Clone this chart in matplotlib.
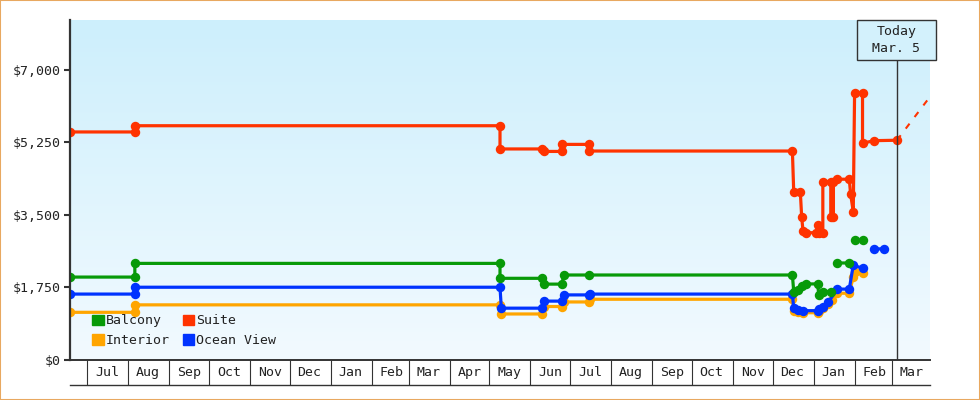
import matplotlib
matplotlib.use("Agg")
import matplotlib.pyplot as plt
import matplotlib.dates as mdates
import numpy as np
from matplotlib.patches import Rectangle, Patch
from matplotlib.colors import LinearSegmentedColormap
from matplotlib.ticker import FuncFormatter, FixedLocator

plt.rcParams['font.family'] = ['DejaVu Sans Mono', 'DejaVu Sans']
plt.rcParams['font.size'] = 9.5

# ---------------- data ----------------
suite_dates = ["2013-06-18", "2013-08-06", "2013-08-06", "2014-05-09", "2014-05-09",
               "2014-06-10", "2014-06-11", "2014-06-25", "2014-06-25", "2014-07-15",
               "2014-07-15", "2014-12-16", "2014-12-17", "2014-12-22", "2014-12-23",
               "2014-12-24", "2014-12-26", "2015-01-03", "2015-01-04", "2015-01-05",
               "2015-01-08", "2015-01-08", "2015-01-14", "2015-01-14", "2015-01-16",
               "2015-01-16", "2015-01-19", "2015-01-28", "2015-01-29", "2015-01-31",
               "2015-02-01", "2015-02-07", "2015-02-07", "2015-02-16", "2015-03-05"]
suite_prices = [5500, 5500, 5650, 5650, 5090,
                5090, 5030, 5030, 5200, 5200,
                5040, 5040, 4050, 4050, 3450,
                3120, 3070, 3070, 3250, 3070,
                3070, 4300, 4300, 3460, 3460,
                4300, 4360, 4360, 4000, 3580,
                6440, 6440, 5230, 5290, 5300]

balcony_dates = ["2013-06-18", "2013-08-06", "2013-08-06", "2014-05-09", "2014-05-09",
                 "2014-06-10", "2014-06-11", "2014-06-25", "2014-06-26", "2014-07-15",
                 "2014-12-16", "2014-12-17", "2014-12-20", "2014-12-23", "2014-12-26",
                 "2015-01-04", "2015-01-05", "2015-01-08", "2015-01-14", None,
                 "2015-01-19", "2015-01-28", None, "2015-02-01", "2015-02-07"]
balcony_prices = [2000, 2000, 2330, 2330, 1970,
                  1970, 1830, 1830, 2050, 2050,
                  2050, 1650, 1700, 1790, 1835,
                  1835, 1570, 1650, 1650, None,
                  2340, 2340, None, 2890, 2890]

ocean_dates = ["2013-06-18", "2013-08-06", "2013-08-06", "2014-05-09", "2014-05-10",
               "2014-06-10", "2014-06-11", "2014-06-25", "2014-06-26", "2014-07-15",
               "2014-07-16", "2014-12-16", "2014-12-17", "2014-12-20", "2014-12-24",
               "2015-01-04", "2015-01-05", "2015-01-08", "2015-01-12", "2015-01-19",
               "2015-01-28", "2015-01-31", "2015-02-07", None, "2015-02-16", "2015-02-23"]
ocean_prices = [1590, 1590, 1755, 1755, 1250,
                1250, 1420, 1420, 1570, 1570,
                1590, 1590, 1250, 1210, 1190,
                1190, 1230, 1290, 1390, 1710,
                1710, 2290, 2210, None, 2680, 2680]

interior_dates = ["2013-06-18", "2013-08-06", "2013-08-06", "2014-05-09", "2014-05-10",
                  "2014-06-10", "2014-06-11", "2014-06-25", "2014-06-26", "2014-07-15",
                  "2014-07-16", "2014-12-16", "2014-12-17", "2014-12-20", "2014-12-24",
                  "2015-01-04", "2015-01-05", "2015-01-08", "2015-01-12", "2015-01-15",
                  "2015-01-19", "2015-01-28", "2015-01-31", "2015-02-01", "2015-02-07"]
interior_prices = [1150, 1150, 1330, 1330, 1110,
                   1110, 1290, 1290, 1400, 1400,
                   1465, 1465, 1190, 1150, 1140,
                   1140, 1190, 1250, 1340, 1450,
                   1610, 1610, 2010, 2120, 2090]

projection_dates = ["2015-03-05", "2015-03-30"]
projection_prices = [5300, 6350]

today_date = "2015-03-05"
today_label = "Today\nMar. 5"
x_start, x_end = "2013-06-18", "2015-03-30"
y_ticks = [0, 1750, 3500, 5250, 7000]
y_max = 8200

colors = {"Balcony": "#089a08", "Suite": "#ff3300", "Interior": "#ffa500", "Ocean View": "#0033ff"}


def to_xy(dates, vals):
    x = np.array([mdates.datestr2num(d) if d is not None else np.nan for d in dates])
    y = np.array([v if v is not None else np.nan for v in vals], dtype=float)
    return x, y


# ---------------- figure ----------------
W, H = 980, 400
fig = plt.figure(figsize=(W / 100, H / 100), dpi=100)
L, R, T, B = 70, 930, 20, 360
rect = [L / W, 1 - B / H, (R - L) / W, (B - T) / H]

bg = fig.add_axes(rect, zorder=0)
cmap = LinearSegmentedColormap.from_list("bg", ["#cdeffc", "#f2faff"])
bg.imshow(np.linspace(0, 1, 256).reshape(-1, 1), aspect="auto", cmap=cmap,
          extent=[0, 1, 0, 1], origin="upper")
bg.set_axis_off()

ax = fig.add_axes(rect, zorder=1)
ax.patch.set_alpha(0)

for name, (d, v) in [("Interior", (interior_dates, interior_prices)),
                     ("Ocean View", (ocean_dates, ocean_prices)),
                     ("Balcony", (balcony_dates, balcony_prices)),
                     ("Suite", (suite_dates, suite_prices))]:
    x, y = to_xy(d, v)
    ax.plot(x, y, color=colors[name], lw=2.3, marker="o", ms=6.8, mew=0,
            solid_joinstyle="round")

px, py = to_xy(projection_dates, projection_prices)
ax.plot(px, py, color=colors["Suite"], lw=1.5, ls=(0, (3, 4)))

today = mdates.datestr2num(today_date)
box_bottom = (B - 60) / (B - T)
ax.axvline(today, ymin=0, ymax=box_bottom, color="#333333", lw=1)

ax.set_xlim(mdates.datestr2num(x_start), mdates.datestr2num(x_end))
ax.set_ylim(0, y_max)

# y axis
ax.yaxis.set_major_locator(FixedLocator(y_ticks))
ax.yaxis.set_major_formatter(FuncFormatter(lambda v, p: f"${v:,.0f}"))
ax.tick_params(axis="y", length=4.5, width=1.5, color="#333333", pad=2, labelcolor="#222222")

# x axis: month separators + centered labels
ax.xaxis.set_major_locator(mdates.MonthLocator())
ax.xaxis.set_major_formatter(plt.NullFormatter())
ax.xaxis.set_minor_locator(mdates.MonthLocator(bymonthday=16))
ax.xaxis.set_minor_formatter(mdates.DateFormatter("%b"))
ax.tick_params(axis="x", which="major", length=18, width=0.8, color="#333333")
ax.tick_params(axis="x", which="minor", length=0, pad=4, labelcolor="#222222")

for s in ["top", "right"]:
    ax.spines[s].set_visible(False)
ax.spines["left"].set_linewidth(1.6)
ax.spines["left"].set_color("#333333")
ax.spines["bottom"].set_linewidth(1.4)
ax.spines["bottom"].set_color("#333333")

row_h = 25 / (B - T)
ax.plot([0, 1], [-row_h, -row_h], transform=ax.transAxes, clip_on=False,
        color="#333333", lw=1)

# legend
handles = [Patch(color=colors["Balcony"], label="Balcony"),
           Patch(color=colors["Interior"], label="Interior"),
           Patch(color=colors["Suite"], label="Suite"),
           Patch(color=colors["Ocean View"], label="Ocean View")]
ax.legend(handles=handles, ncol=2, loc="lower left", bbox_to_anchor=(0.026, 0.038),
          frameon=False, handlelength=0.85, handleheight=0.85, handletextpad=0.15,
          columnspacing=1.0, labelspacing=0.5, borderaxespad=0, borderpad=0,
          fontsize=9.5, labelcolor="#222222")

# today box
bx0 = (857 - L) / (R - L)
bw = 79 / (R - L)
ax.add_patch(Rectangle((bx0, box_bottom), bw, 1 - box_bottom, transform=ax.transAxes,
                       clip_on=False, facecolor="#d3f1fc", edgecolor="#333333", lw=1,
                       zorder=5))
ax.text(bx0 + bw / 2, (1 + box_bottom) / 2, today_label, transform=ax.transAxes,
        ha="center", va="center", fontsize=9.5, color="#222222", linespacing=1.3,
        zorder=6)

# outer border
fig.patches.append(Rectangle((0, 0), 1, 1, transform=fig.transFigure, fill=False,
                             edgecolor="#e8a860", lw=1.5))

fig.savefig("out.png", dpi=100)
